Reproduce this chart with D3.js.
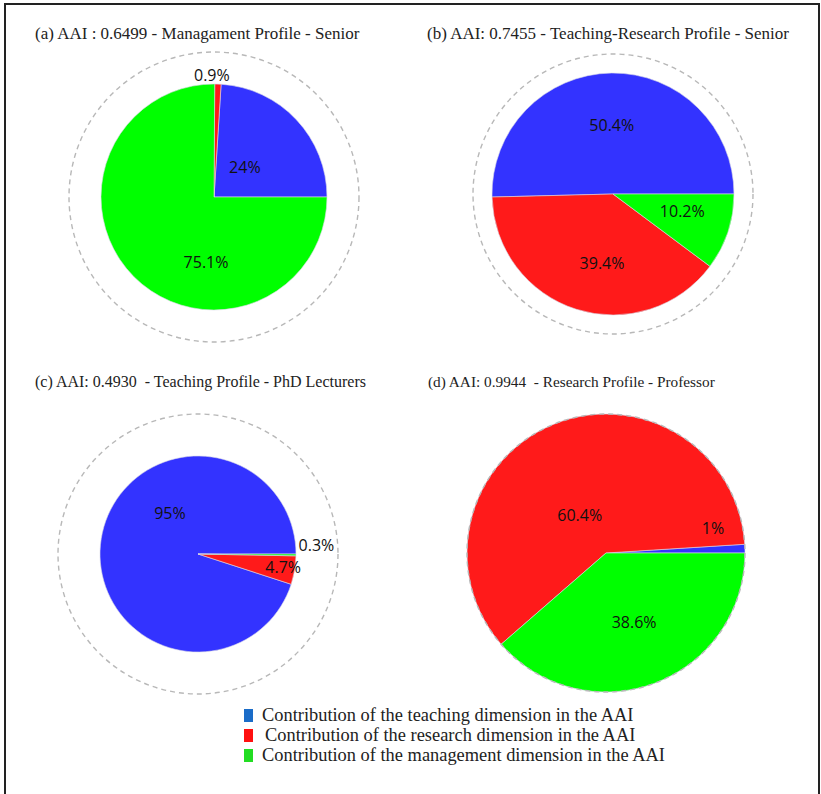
<!DOCTYPE html>
<html>
<head>
<meta charset="utf-8">
<script src="https://cdn.jsdelivr.net/npm/d3@7"></script>
<style>
  body { margin: 0; background: #fff; }
  svg { display: block; }
  text { white-space: pre; }
</style>
</head>
<body>
<svg id="chart" width="821" height="794"></svg>
<script>
// data
var dimensions = ["teaching", "research", "management"];
var titles = [
  "(a) AAI : 0.6499 - Managament Profile - Senior",
  "(b) AAI: 0.7455 - Teaching-Research Profile - Senior",
  "(c) AAI: 0.4930  - Teaching Profile - PhD Lecturers",
  "(d) AAI: 0.9944  - Research Profile - Professor"
];
var sharesA = [24, 0.9, 75.1];
var sharesB = [50.4, 39.4, 10.2];
var sharesC = [95, 4.7, 0.3];
var sharesD = [1, 60.4, 38.6];
var pctLabels = [
  ["24%", "0.9%", "75.1%"],
  ["50.4%", "39.4%", "10.2%"],
  ["95%", "4.7%", "0.3%"],
  ["1%", "60.4%", "38.6%"]
];
var legendLabels = [
  "Contribution of the teaching dimension in the AAI",
  "Contribution of the research dimension in the AAI",
  "Contribution of the management dimension in the AAI"
];

var svg = d3.select("#chart");

var sliceColor = d3.scaleOrdinal().domain(dimensions).range(["#3333ff", "#ff1a1a", "#00ff00"]);
var legendColor = d3.scaleOrdinal().domain(dimensions).range(["#1a6cc8", "#ff1010", "#22dd22"]);

// panel layout: pie centre, radius, dashed ring radius, title position and size
var panels = [
  {shares: sharesA, cx: 214, cy: 197, r: 113, ring: 145, tx: 35, ty: 39, fs: 17},
  {shares: sharesB, cx: 613, cy: 194, r: 121, ring: 140, tx: 427, ty: 39, fs: 17},
  {shares: sharesC, cx: 198, cy: 554, r: 98, ring: 140, tx: 35, ty: 387, fs: 16},
  {shares: sharesD, cx: 606, cy: 553, r: 139, ring: 139, tx: 428, ty: 387, fs: 15.3}
];
// label placement: [angle in degrees counter-clockwise from 3 o'clock, distance as fraction of r, anchor]
var labelPlace = [
  [[44, 0.38, "middle"], [91, 1.08, "middle"], [263, 0.58, "middle"]],
  [[91, 0.57, "middle"], [261, 0.58, "middle"], [346, 0.59, "middle"]],
  [[125, 0.5, "middle"], [351, 0.88, "middle"], [5, 1.03, "start"]],
  [[13, 0.79, "middle"], [125, 0.33, "middle"], [292, 0.54, "middle"]]
];

// frame
svg.append("rect")
  .attr("x", 5).attr("y", 4)
  .attr("width", 814).attr("height", 800)
  .attr("fill", "none")
  .attr("stroke", "#222")
  .attr("stroke-width", 2);

// counter-clockwise pies starting at 3 o'clock
var pie = d3.pie()
  .sort(null)
  .value(function(d) { return d.value; })
  .startAngle(Math.PI / 2)
  .endAngle(Math.PI / 2 - 2 * Math.PI);

panels.forEach(function(p, i) {
  var g = svg.append("g").attr("transform", "translate(" + p.cx + "," + p.cy + ")");
  var rows = dimensions.map(function(k, j) { return {key: k, value: p.shares[j]}; });
  var arc = d3.arc().innerRadius(0).outerRadius(p.r);

  g.selectAll("path.slice")
    .data(pie(rows))
    .enter()
    .append("path")
    .attr("class", "slice")
    .attr("d", arc)
    .attr("fill", function(d) { return sliceColor(d.data.key); })
    .attr("stroke", "#d8d8e8")
    .attr("stroke-width", 0.6);

  g.append("circle")
    .attr("r", p.ring)
    .attr("fill", "none")
    .attr("stroke", "#b8b8b8")
    .attr("stroke-width", 1.4)
    .attr("stroke-dasharray", "5,4");

  g.selectAll("text.pct")
    .data(pctLabels[i])
    .enter()
    .append("text")
    .attr("class", "pct")
    .attr("x", function(d, j) {
      var a = labelPlace[i][j][0] * Math.PI / 180;
      return Math.cos(a) * labelPlace[i][j][1] * p.r;
    })
    .attr("y", function(d, j) {
      var a = labelPlace[i][j][0] * Math.PI / 180;
      return -Math.sin(a) * labelPlace[i][j][1] * p.r;
    })
    .attr("dy", "0.35em")
    .attr("text-anchor", function(d, j) { return labelPlace[i][j][2]; })
    .attr("font-family", "'Open Sans', 'Noto Sans', sans-serif")
    .attr("font-size", 16)
    .attr("fill", "#111")
    .text(function(d) { return d; });

  svg.append("text")
    .attr("x", p.tx)
    .attr("y", p.ty)
    .attr("font-family", "'Liberation Serif', 'Times New Roman', serif")
    .attr("font-size", p.fs)
    .attr("fill", "#222")
    .text(titles[i]);
});

// legend
var legend = svg.append("g").attr("transform", "translate(244,709)");
var items = legend.selectAll("g")
  .data(dimensions)
  .enter()
  .append("g")
  .attr("transform", function(d, i) { return "translate(0," + (i * 20) + ")"; });
items.append("rect")
  .attr("width", 9).attr("height", 13)
  .attr("fill", function(d) { return legendColor(d); });
items.append("text")
  .attr("x", function(d, i) { return i == 1 ? 21 : 18; })
  .attr("y", 12)
  .attr("font-family", "'Liberation Serif', 'Times New Roman', serif")
  .attr("font-size", 18.4)
  .attr("fill", "#222")
  .text(function(d, i) { return legendLabels[i]; });
</script>
</body>
</html>
